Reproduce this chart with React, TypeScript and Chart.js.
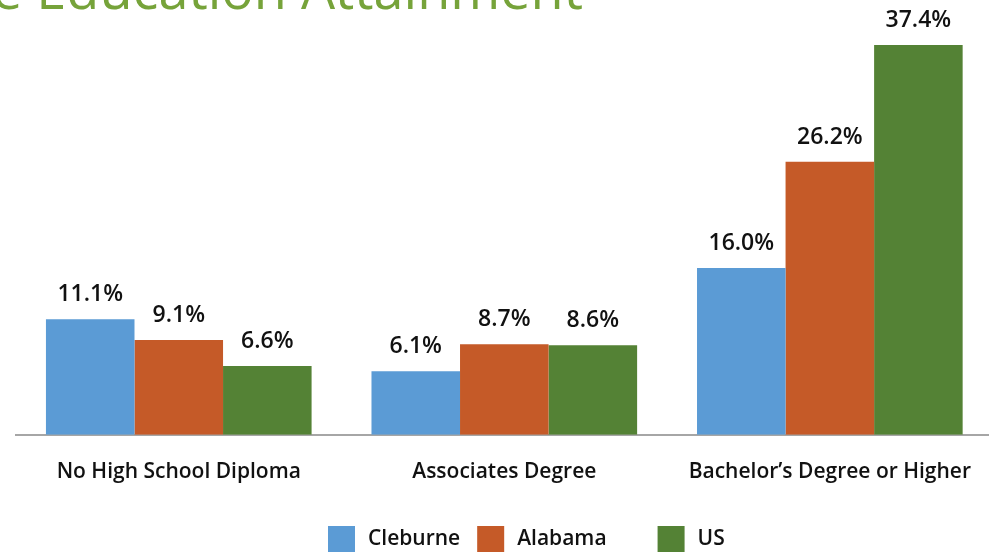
import React, { useEffect, useRef } from "react";
import { Chart, registerables } from "chart.js";

Chart.register(...registerables);

const categories = ["No High School Diploma", "Associates Degree", "Bachelor\u2019s Degree or Higher"];
const seriesNames = ["Cleburne", "Alabama", "US"];
const cleburne = [11.1, 6.1, 16.0];
const alabama = [9.1, 8.7, 26.2];
const us = [6.6, 8.6, 37.4];
const colors = ["#5b9bd5", "#c55a28", "#548235"];
const titleText = "e Education Attainment";

const FONT = "'Open Sans', sans-serif";

const labelPlugin = {
  id: "valueLabels",
  afterDatasetsDraw(chart: any) {
    const ctx = chart.ctx;
    ctx.save();
    ctx.fillStyle = "#111";
    ctx.font = `600 23px ${FONT}`;
    ctx.textAlign = "center";
    ctx.textBaseline = "alphabetic";
    chart.data.datasets.forEach((ds: any, i: number) => {
      const meta = chart.getDatasetMeta(i);
      meta.data.forEach((bar: any, j: number) => {
        ctx.fillText(ds.data[j].toFixed(1) + "%", bar.x, bar.y - 18);
      });
    });
    ctx.restore();
  },
};

const decorPlugin = {
  id: "decor",
  afterDraw(chart: any) {
    const ctx = chart.ctx;
    ctx.save();
    // title (cut off at top)
    ctx.fillStyle = "#76a33a";
    ctx.font = `54px ${FONT}`;
    ctx.textAlign = "left";
    ctx.textBaseline = "alphabetic";
    ctx.fillText(titleText, -8, 9);
    // legend
    ctx.font = `600 21px ${FONT}`;
    ctx.textBaseline = "middle";
    const boxW = 27;
    const boxH = 26;
    const gapText = 13;
    const gaps = [17, 51];
    const widths = seriesNames.map((n) => boxW + gapText + ctx.measureText(n).width);
    let x = chart.chartArea.left + 312;
    const y = 526;
    seriesNames.forEach((n, i) => {
      ctx.fillStyle = colors[i];
      ctx.fillRect(x, y, boxW, boxH);
      ctx.fillStyle = "#111";
      ctx.fillText(n, x + boxW + gapText, y + 13);
      x += widths[i] + (gaps[i] || 0);
    });
    ctx.restore();
  },
};

export default function App() {
  const ref = useRef<HTMLCanvasElement>(null);
  useEffect(() => {
    if (!ref.current) return;
    const chart = new Chart(ref.current, {
      type: "bar",
      data: {
        labels: categories,
        datasets: [cleburne, alabama, us].map((d, i) => ({
          label: seriesNames[i],
          data: d,
          backgroundColor: colors[i],
          borderWidth: 0,
          barPercentage: 1,
          categoryPercentage: 0.816,
        })),
      },
      options: {
        animation: false,
        responsive: false,
        maintainAspectRatio: false,
        layout: { padding: { left: 16, right: 0, top: 18, bottom: 42 } },
        plugins: {
          legend: { display: false },
          tooltip: { enabled: false },
          title: { display: false },
        },
        scales: {
          x: {
            grid: { display: false, drawTicks: false },
            border: { display: true, color: "#a6a6a6", width: 2 },
            ticks: {
              color: "#111",
              font: { family: FONT, size: 21, weight: "600" },
              padding: 25,
            },
          },
          y: {
            display: false,
            min: 0,
            max: 40,
          },
        },
      },
      plugins: [labelPlugin, decorPlugin],
    });
    return () => chart.destroy();
  }, []);
  return (
    <div style={{ position: "absolute", left: 0, top: 0, width: 989, height: 552, overflow: "hidden", background: "#fff" }}>
      <canvas ref={ref} width={996} height={552} style={{ width: 996, height: 552, display: "block" }} />
    </div>
  );
}
